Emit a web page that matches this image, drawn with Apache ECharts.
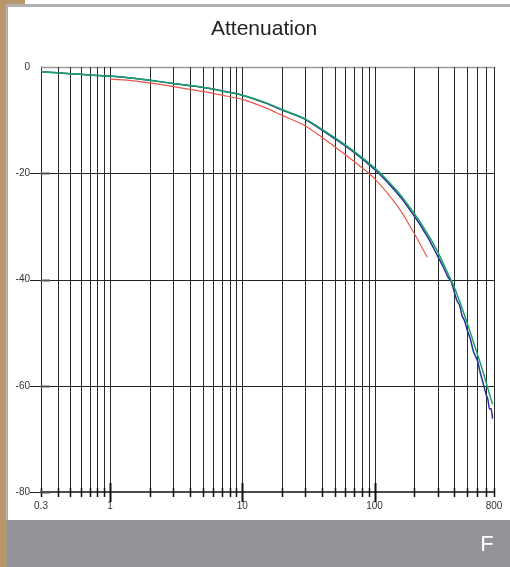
<!DOCTYPE html>
<html>
<head>
<meta charset="utf-8">
<script src="https://cdn.jsdelivr.net/npm/echarts@6/dist/echarts.min.js"></script>
<style>
  html, body { margin: 0; padding: 0; background: #fff; }
  #main { width: 510px; height: 567px; }
</style>
</head>
<body>
<div id="main"></div>
<script>
// 网格竖线位置（每个十倍程内的整数倍）
var freqGrid = [0.3, 0.4, 0.5, 0.6, 0.7, 0.8, 0.9,
  1, 2, 3, 4, 5, 6, 7, 8, 9,
  10, 20, 30, 40, 50, 60, 70, 80, 90,
  100, 200, 300, 400, 500, 600, 700, 800];
var yGridLines = [-20, -40, -60];
var yTickMarks = [-20, -40, -60, -80];

// 绿色曲线
var greenFreq = [0.3, 0.4, 0.5, 0.7, 1, 1.5, 2, 3, 5, 7, 10, 15, 20, 30, 50, 70, 100,
  120, 150, 170, 200, 220, 250, 270, 300, 350, 400, 450, 500, 550, 600, 650, 700, 750, 780];
var greenDb = [-0.9, -1.1, -1.25, -1.5, -1.7, -2.1, -2.5, -3.1, -3.8, -4.5, -5.3, -6.7, -8.0, -9.8, -13.3, -15.9, -19.0,
  -20.9, -23.5, -25.2, -27.6, -29.1, -31.3, -32.7, -34.8, -38.3, -41.4, -44.8, -48.1, -51.2, -54.1, -56.8, -59.5, -62.1, -63.5];

// 蓝色曲线（测量值，带点抖动）
var blueFreq = [0.3, 0.4, 0.5, 0.7, 1, 1.5, 2, 3, 5, 7, 10, 15, 20, 30, 50, 70, 100,
  120, 150, 170, 200, 220, 250, 270, 300, 330, 360, 380, 400, 420, 440, 460, 480, 500, 530, 560, 600,
  630, 660, 700, 720, 740, 760, 780];
var blueDb = [-0.9, -1.1, -1.25, -1.5, -1.7, -2.1, -2.5, -3.1, -3.8, -4.5, -5.3, -6.8, -8.1, -9.9, -13.5, -16.1, -19.3,
  -21.2, -23.9, -25.6, -28.1, -29.6, -31.9, -33.4, -35.6, -37.6, -39.6, -40.4, -42.3, -44.0, -44.9, -46.9, -47.8, -49.4, -51.2, -53.6, -55.3,
  -57.6, -59.4, -61.8, -62.6, -64.4, -64.3, -66.2];

// 红色曲线
var redFreq = [1, 1.5, 2, 3, 5, 7, 10, 15, 20, 30, 50, 70, 100, 150, 200, 250];
var redDb = [-2.3, -2.6, -3.0, -3.7, -4.6, -5.3, -6.1, -7.7, -9.1, -11.1, -15.0, -17.8, -21.0, -26.3, -31.4, -35.8];

function zip(xs, ys) {
  return xs.map(function (x, i) { return [x, ys[i]]; });
}

var myChart = echarts.init(document.getElementById("main"));

var option = {
  animation: false,
  backgroundColor: "#fff",
  title: {
    text: "Attenuation",
    left: 206,
    top: 14,
    textStyle: {
      fontFamily: "Liberation Sans",
      fontSize: 21,
      fontWeight: "normal",
      color: "#222",
    },
  },
  grid: {
    left: 41,
    right: 16,
    top: 67,
    bottom: 75,
  },
  xAxis: {
    type: "log",
    logBase: 10,
    min: 0.3,
    max: 800,
    axisLine: { show: true, onZero: false, lineStyle: { color: "#111", width: 1.5 } },
    axisTick: { show: false },
    splitLine: { show: false },
    axisLabel: {
      color: "#333",
      fontSize: 10,
      fontFamily: "Liberation Sans",
      margin: 9,
      showMinLabel: true,
      showMaxLabel: true,
      formatter: function (v) { return String(+Number(v).toPrecision(3)); },
    },
  },
  yAxis: {
    type: "value",
    min: -80,
    max: 0,
    interval: 20,
    axisLine: { show: true, onZero: false, lineStyle: { color: "#111" } },
    axisTick: { show: false },
    splitLine: { show: false },
    axisLabel: {
      color: "#333",
      fontSize: 10,
      fontFamily: "Liberation Sans",
      margin: 11,
    },
  },
  graphic: [
    { type: "rect", shape: { x: 0, y: 520, width: 510, height: 47 }, style: { fill: "#939497" }, z: 100 },
    { type: "rect", shape: { x: 0, y: 0, width: 6.5, height: 567 }, style: { fill: "#b8976a" }, z: 101 },
    { type: "rect", shape: { x: 6.5, y: 0, width: 1.5, height: 520 }, style: { fill: "#a9a9a9" }, z: 101 },
    { type: "rect", shape: { x: 0, y: 0, width: 25, height: 4 }, style: { fill: "#b8976a" }, z: 101 },
    { type: "rect", shape: { x: 8, y: 4, width: 502, height: 3 }, style: { fill: "#b0b0b0" }, z: 101 },
    {
      type: "text",
      x: 487,
      y: 545,
      z: 102,
      style: {
        text: "F",
        fill: "#fff",
        fontSize: 22,
        fontFamily: "Liberation Sans",
        align: "center",
        verticalAlign: "middle",
      },
    },
  ],
  series: [
    {
      // 竖向网格线和底部刻度
      type: "custom",
      silent: true,
      clip: false,
      z: 1,
      data: freqGrid.map(function (v) { return [v, -80]; }),
      encode: { x: 0, y: 1 },
      renderItem: function (params, api) {
        var v = api.value(0);
        var top = api.coord([v, 0]);
        var bot = api.coord([v, -80]);
        var lg = Math.log10(v);
        var major = Math.abs(lg - Math.round(lg)) < 1e-9;
        var x = Math.round(top[0]) + 0.5;
        var children = [
          { type: "line", shape: { x1: x, y1: top[1], x2: x, y2: bot[1] }, style: { stroke: "#2a2a2a", lineWidth: 1 } },
          {
            type: "line",
            shape: { x1: x, y1: bot[1] - (major ? 9 : 4), x2: x, y2: bot[1] + (major ? 10 : 5) },
            style: { stroke: "#111", lineWidth: major ? 2 : 1.5 },
          },
        ];
        if (params.dataIndex === 0) {
          // 顶部灰色边线
          var right = api.coord([800, 0]);
          var yt = Math.round(top[1]) + 0.5;
          children.push({ type: "line", shape: { x1: top[0], y1: yt, x2: right[0], y2: yt }, style: { stroke: "#9a9a9a", lineWidth: 1.5 } });
        }
        return { type: "group", children: children };
      },
    },
    {
      // 横向网格线
      type: "custom",
      silent: true,
      clip: false,
      z: 1,
      data: yGridLines.map(function (v) { return [0.3, v]; }),
      encode: { x: 0, y: 1 },
      renderItem: function (params, api) {
        var l = api.coord([0.3, api.value(1)]);
        var r = api.coord([800, api.value(1)]);
        var y = Math.round(l[1]) + 0.5;
        return { type: "line", shape: { x1: l[0], y1: y, x2: r[0], y2: y }, style: { stroke: "#222", lineWidth: 1 } };
      },
    },
    {
      // 左侧刻度
      type: "custom",
      silent: true,
      clip: false,
      z: 2,
      data: yTickMarks.map(function (v) { return [0.3, v]; }),
      encode: { x: 0, y: 1 },
      renderItem: function (params, api) {
        var p = api.coord([api.value(0), api.value(1)]);
        var y = Math.round(p[1]) + 0.5;
        return {
          type: "group",
          children: [
            { type: "line", shape: { x1: p[0] - 11, y1: y, x2: p[0], y2: y }, style: { stroke: "#222", lineWidth: 1 } },
            { type: "line", shape: { x1: p[0], y1: y, x2: p[0] + 9, y2: y }, style: { stroke: "#555", lineWidth: 2 } },
          ],
        };
      },
    },
    {
      name: "red",
      type: "line",
      data: zip(redFreq, redDb),
      showSymbol: false,
      smooth: 0.3,
      z: 3,
      lineStyle: { color: "#e8574d", width: 1.2 },
    },
    {
      name: "blue",
      type: "line",
      data: zip(blueFreq, blueDb),
      showSymbol: false,
      smooth: 0.2,
      z: 4,
      lineStyle: { color: "#2b2f9c", width: 1.5 },
    },
    {
      name: "green",
      type: "line",
      data: zip(greenFreq, greenDb),
      showSymbol: false,
      smooth: 0.3,
      z: 5,
      lineStyle: { color: "#18a464", width: 1.5 },
    },
  ],
};

myChart.setOption(option, true);

window.addEventListener("resize", function () {
  myChart.resize();
});
</script>
</body>
</html>
